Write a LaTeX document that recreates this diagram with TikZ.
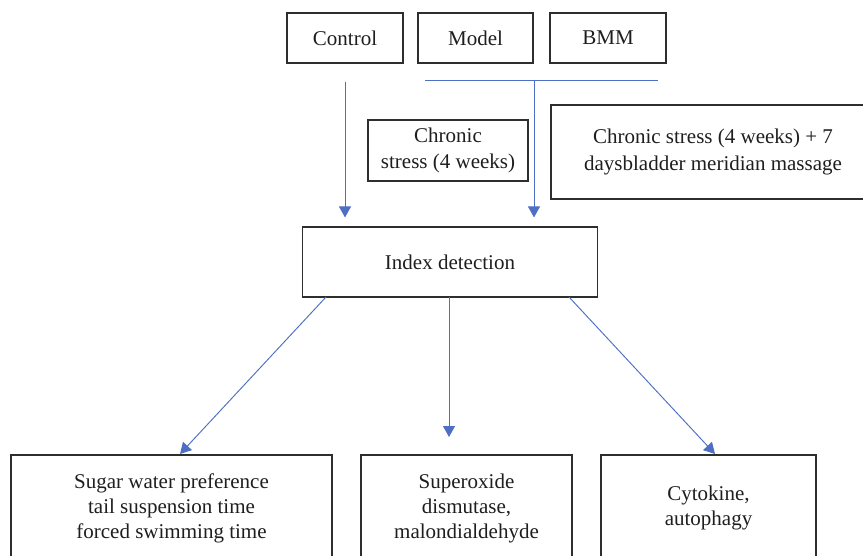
\documentclass[tikz,border=0pt]{standalone}
\usepackage{fontspec}
\setmainfont{Liberation Serif}
\usetikzlibrary{arrows.meta}
\definecolor{lineblue}{HTML}{4E6FC4}
\definecolor{boxgray}{HTML}{2E2E2E}
\definecolor{txt}{HTML}{1E1E1E}
\begin{document}
\begin{tikzpicture}[x=1pt,y=-1pt,
  box/.style={draw=boxgray,line width=1.1pt,rectangle,inner sep=0pt,align=center,text=txt,
    font=\fontsize{21}{25}\selectfont},
  conn/.style={draw=lineblue,line width=0.95pt},
  arr/.style={conn,-{Triangle[length=11pt,width=12pt]}}]
\useasboundingbox (0,0) rectangle (863,556);
\begin{scope}
\clip (0,0) rectangle (863,556);
% top row
\node[box,minimum width=116pt,minimum height=50pt] (ctrl) at (345,38) {Control};
\node[box,minimum width=115pt,minimum height=50pt] (model) at (475.5,38) {Model};
\node[box,minimum width=116pt,minimum height=50pt] (bmm) at (608,38) {BMM};
% middle labels
\node[box,minimum width=160pt,minimum height=61pt,font=\fontsize{21}{26.5}\selectfont] (cs) at (448,150.5) {Chronic\\stress (4 weeks)};
\node[box,minimum width=324pt,minimum height=94pt,font=\fontsize{21}{26.5}\selectfont] (csm) at (713,152) {Chronic stress (4 weeks) + 7\\daysbladder meridian massage};
% index detection
\node[box,minimum width=295pt,minimum height=70pt] (idx) at (450,262) {Index detection};
% bottom row
\node[box,minimum width=321pt,minimum height=106pt] (b1) at (171.5,508) {Sugar water preference\\tail suspension time\\forced swimming time};
\node[box,minimum width=211pt,minimum height=106pt] (b2) at (466.5,508) {Superoxide\\dismutase,\\malondialdehyde};
\node[box,minimum width=215pt,minimum height=106pt] (b3) at (708.5,508) {Cytokine,\\autophagy};
% connectors
\coordinate (hl) at (425,80.7);
\coordinate (hr) at (658,80.7);
\coordinate (hm) at (534,80.7);
\coordinate (cstart) at ([yshift=-18pt]ctrl.south);
\coordinate (itop) at ([yshift=9pt]idx.north);
\draw[conn] (hl) -- (hr);
\draw[arr] (cstart) -- (cstart |- itop);
\draw[arr] (hm) -- (hm |- itop);
\coordinate (s1) at (326,297);
\coordinate (s2) at (449,297);
\coordinate (s3) at (569,297);
\coordinate (e1) at (180,454);
\coordinate (e2) at (449,437);
\coordinate (e3) at (715,454);
\draw[arr] (s1) -- (e1);
\draw[arr] (s2) -- (e2);
\draw[arr] (s3) -- (e3);
\end{scope}
\end{tikzpicture}
\end{document}
